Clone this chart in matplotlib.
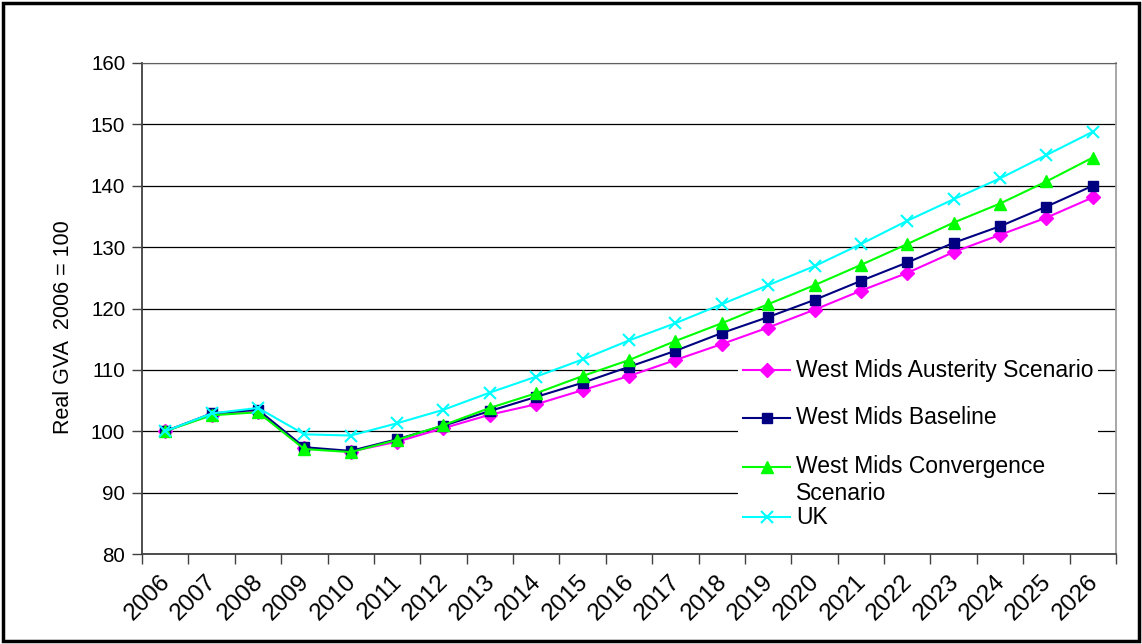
import matplotlib
matplotlib.use("Agg")
import matplotlib.pyplot as plt
from matplotlib.lines import Line2D
from matplotlib.patches import Rectangle
from matplotlib.transforms import ScaledTranslation

plt.rcParams['font.family'] = ['Liberation Sans', 'DejaVu Sans']

# Data
years = [str(y) for y in range(2006, 2027)]
austerity = [100.0, 102.7, 103.2, 97.2, 96.7, 98.3, 100.5, 102.7, 104.4, 106.7,
             109.0, 111.6, 114.2, 116.9, 119.8, 122.9, 125.8, 129.2, 132.0, 134.8, 138.1]
baseline = [100.0, 102.9, 103.5, 97.4, 96.8, 98.7, 100.9, 103.3, 105.6, 107.9,
            110.5, 113.1, 116.0, 118.6, 121.4, 124.5, 127.5, 130.7, 133.4, 136.6, 140.0]
convergence = [100.0, 102.6, 103.1, 97.1, 96.6, 98.6, 101.0, 103.8, 106.2, 109.0,
               111.6, 114.7, 117.6, 120.7, 123.8, 127.1, 130.5, 134.0, 137.1, 140.7, 144.6]
uk = [100.0, 102.9, 103.8, 99.5, 99.3, 101.3, 103.5, 106.3, 108.9, 111.7,
      114.8, 117.6, 120.7, 123.8, 126.9, 130.5, 134.3, 137.8, 141.2, 145.0, 148.8]

series = [
    ("West Mids Austerity Scenario", austerity, '#FF00FF', 'D', 7),
    ("West Mids Baseline", baseline, '#000080', 's', 7.5),
    ("West Mids Convergence\nScenario", convergence, '#00FF00', '^', 9),
    ("UK", uk, '#00FFFF', 'x', 9),
]

fig = plt.figure(figsize=(11.42, 6.44), dpi=100)
ax = fig.add_axes([142 / 1142, 1 - 554 / 644, (1116 - 142) / 1142, (554 - 63) / 644])

x = list(range(len(years)))
for label, vals, col, mk, ms in series:
    ax.plot(x, vals, color=col, marker=mk, markersize=ms, lw=1.5,
            markeredgecolor=col, markeredgewidth=1.5 if mk == 'x' else 1, zorder=3)

ax.set_xlim(-0.5, len(years) - 0.5)
ax.set_ylim(80, 160)
ax.set_yticks(range(80, 161, 10))
ax.yaxis.grid(True, color='black', lw=0.9)
ax.set_axisbelow(True)
ax.tick_params(axis='y', labelsize=14.8, length=7, width=1, color='#404040', pad=5)

# tick marks on category boundaries, labels on category centres
ax.set_xticks([i - 0.5 for i in range(len(years) + 1)])
ax.set_xticklabels([])
ax.tick_params(axis='x', which='major', length=7, width=1, color='#404040')
ax.set_xticks(x, minor=True)
ax.set_xticklabels(years, minor=True, rotation=45, ha='right', rotation_mode='anchor',
                   fontsize=17.5)
ax.tick_params(axis='x', which='minor', length=0, pad=12)
shift = ScaledTranslation(-6 / 100, 0, fig.dpi_scale_trans)
for lab in ax.get_xticklabels(minor=True):
    lab.set_transform(lab.get_transform() + shift)

ax.spines['left'].set_color('#404040')
ax.spines['bottom'].set_color('#404040')
ax.spines['left'].set_linewidth(1.3)
ax.spines['bottom'].set_linewidth(1.3)
ax.spines['right'].set_color('#a0a0a0')
ax.spines['right'].set_linewidth(1.3)
ax.spines['top'].set_color('#606060')

ax.set_ylabel("Real GVA  2006 = 100", fontsize=15.5)
ax.yaxis.set_label_coords((74 - 142) / (1116 - 142), (554 - 327) / (554 - 63))

# Manual legend (Excel style, white box, no frame)
def fx(px):
    return (px - 142) / (1116 - 142)

def fy(py):
    return (554 - py) / (554 - 63)

ax.add_patch(Rectangle((fx(738), fy(532)), fx(1098) - fx(738), fy(350) - fy(532),
                       transform=ax.transAxes, facecolor='white', edgecolor='none', zorder=4))
rows = [370, 418, 467, 517]
for (label, vals, col, mk, ms), ry in zip(series, rows):
    ax.add_line(Line2D([fx(743), fx(790)], [fy(ry), fy(ry)], transform=ax.transAxes,
                       color=col, lw=1.5, zorder=5))
    ax.add_line(Line2D([fx(766.5)], [fy(ry)], transform=ax.transAxes, color=col,
                       marker=mk, markersize=ms, markeredgecolor=col,
                       markeredgewidth=1.5 if mk == 'x' else 1, zorder=5))
    for k, line in enumerate(label.split('\n')):
        ax.text(fx(796), fy(ry + 26 * k), line, transform=ax.transAxes, fontsize=16.5,
                va='center', ha='left', zorder=6)

# Outer frame
fig.add_artist(Rectangle((3 / 1142, 3 / 644), 1136 / 1142, 638 / 644,
                         transform=fig.transFigure, facecolor='none',
                         edgecolor='black', lw=2.5))

fig.savefig("out.png", dpi=100)
